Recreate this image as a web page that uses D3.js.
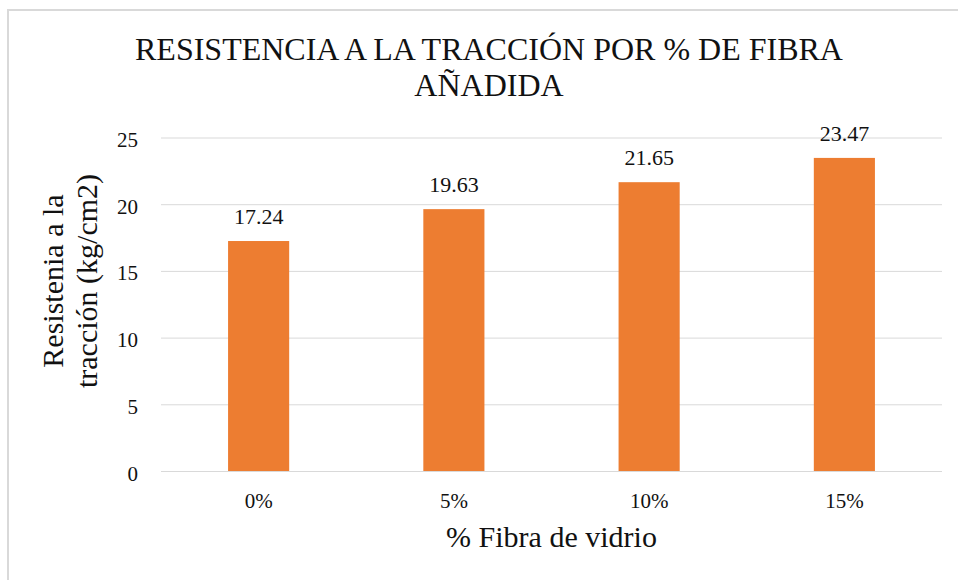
<!DOCTYPE html>
<html>
<head>
<meta charset="utf-8">
<script src="https://cdn.jsdelivr.net/npm/d3@7"></script>
<style>
  body { margin: 0; background: #fff; }
  svg text { font-family: "Liberation Serif", "Times New Roman", Times, Tinos, "DejaVu Serif", serif; fill: #111; }
  .grid line { stroke: #d9d9d9; stroke-width: 1; }
</style>
</head>
<body>
<div id="chart"></div>
<script>
var categories = ['0%', '5%', '10%', '15%']
var values = [17.24, 19.63, 21.65, 23.47]
var yTicks = [0, 5, 10, 15, 20, 25]
var titleLines = ['RESISTENCIA A LA TRACCIÓN POR % DE FIBRA', 'AÑADIDA']
var yTitleLines = ['Resistenia a la', 'tracción (kg/cm2)']
var xTitle = '% Fibra de vidrio'

var serif = '"Liberation Serif", "Times New Roman", Times, Tinos, "DejaVu Serif", serif'

var W = 958
var H = 580
var margin = { top: 137.5, left: 161, right: 16, bottom: 109 }
var width = W - margin.left - margin.right
var height = H - margin.top - margin.bottom

var root = d3.select('#chart')
  .append('svg')
  .attr('width', W)
  .attr('height', H)
  .attr('font-family', serif)

// chart area border (only top/left visible in the picture)
root.append('rect')
  .attr('x', 8)
  .attr('y', 10)
  .attr('width', 980)
  .attr('height', 600)
  .attr('fill', 'none')
  .attr('stroke', '#d9d9d9')
  .attr('stroke-width', 2)

var svg = root.append('g')
  .attr('transform', `translate(${margin.left},${margin.top})`)

var xScale = d3.scaleBand()
  .domain(categories)
  .range([0, width])
  .paddingInner(0.687)
  .paddingOuter(0.3435)

var yScale = d3.scaleLinear()
  .domain([0, 25])
  .range([height, 0])

/* gridlines + y labels */
var yAxis = d3.axisLeft(yScale)
  .tickValues(yTicks)
  .tickSize(-width)
  .tickPadding(23)

svg.append('g')
  .attr('class', 'grid')
  .call(yAxis)
  .attr('font-family', serif)
  .call(g => g.select('.domain').remove())
  .selectAll('text')
  .attr('font-size', 21)
  .attr('dy', 9)
  .attr('fill', '#111')

/* bars */
svg.selectAll('.bar')
  .data(values)
  .enter()
  .append('rect')
  .attr('class', 'bar')
  .attr('x', (d, i) => xScale(categories[i]))
  .attr('y', d => yScale(d))
  .attr('width', xScale.bandwidth())
  .attr('height', d => height - yScale(d))
  .attr('fill', '#ED7D31')

/* data labels */
svg.selectAll('.val')
  .data(values)
  .enter()
  .append('text')
  .attr('class', 'val')
  .attr('x', (d, i) => xScale(categories[i]) + xScale.bandwidth() / 2)
  .attr('y', d => yScale(d) - 17)
  .attr('text-anchor', 'middle')
  .attr('font-size', 22)
  .text(d => d.toFixed(2))

/* x axis labels */
var xAxis = d3.axisBottom(xScale).tickSize(0)
svg.append('g')
  .attr('transform', `translate(0,${height})`)
  .call(xAxis)
  .attr('font-family', serif)
  .call(g => g.select('.domain').remove())
  .selectAll('text')
  .attr('font-size', 21)
  .attr('y', 37)
  .attr('dy', 0)
  .attr('fill', '#111')

/* titles */
root.selectAll('.title')
  .data(titleLines)
  .enter()
  .append('text')
  .attr('class', 'title')
  .attr('x', 489)
  .attr('y', (d, i) => 60 + i * 36)
  .attr('text-anchor', 'middle')
  .attr('font-size', 32)
  .text(d => d)

root.append('text')
  .attr('x', margin.left + width / 2)
  .attr('y', 547)
  .attr('text-anchor', 'middle')
  .attr('font-size', 30)
  .text(xTitle)

root.selectAll('.ytitle')
  .data(yTitleLines)
  .enter()
  .append('text')
  .attr('class', 'ytitle')
  .attr('transform', (d, i) => `translate(${63 + i * 34},281) rotate(-90)`)
  .attr('text-anchor', 'middle')
  .attr('font-size', 30)
  .text(d => d)
</script>
</body>
</html>
